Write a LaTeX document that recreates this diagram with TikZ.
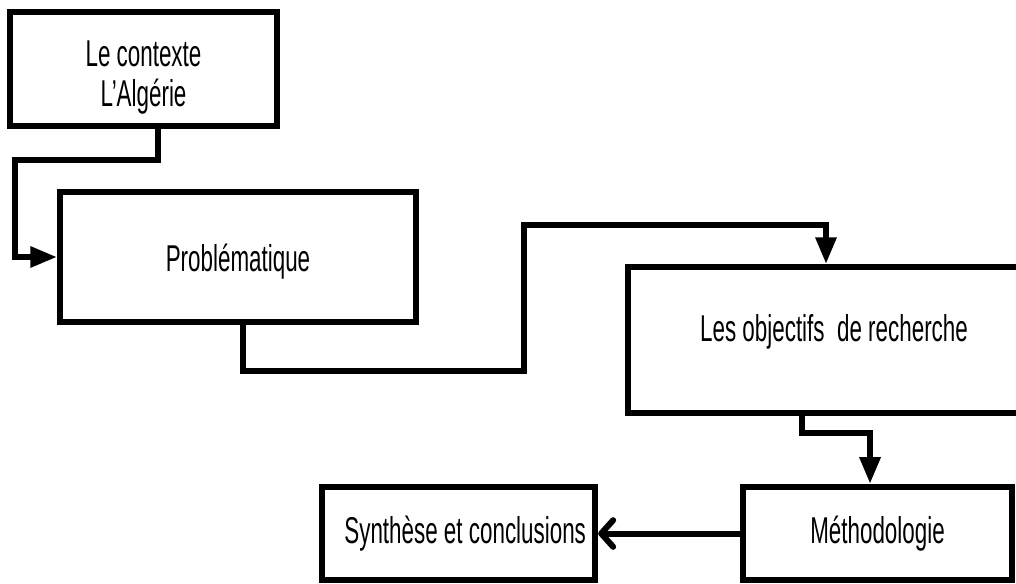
\documentclass[tikz,border=0pt]{standalone}
\usepackage{fontspec}
\setmainfont[FakeStretch=0.6]{Liberation Sans}
\usetikzlibrary{arrows.meta}

\begin{document}
\begin{tikzpicture}[x=0.75pt, y=-0.75pt,
  box/.style={draw, line width=4.5pt, shape=rectangle, align=center, font=\fontsize{28}{30}\selectfont},
  link/.style={line width=4.5pt, -{Triangle[length=20pt, width=15pt]}},
  back/.style={line width=4.5pt, -{Straight Barb[length=9pt, width=20pt, round]}}]
\clip (0,0) rectangle (1016,583);

% Define nodes
\path (143.5,69)
node[box, minimum width=200pt, minimum height=85.5pt] (ctx) {\rule{0pt}{32pt}Le contexte\\L'Algérie}
(238,257)
node[box, minimum width=267pt, minimum height=97.5pt] (pb) {\rule{0pt}{28pt}Problématique}
(834,340)
node[box, minimum width=309pt, minimum height=109.5pt, text depth=18pt] (obj) {Les objectifs\ \ de recherche}
(877.5,533.5)
node[box, minimum width=201.75pt, minimum height=70pt] (meth) {Méthodologie}
(458.5,533.5)
node[box, minimum width=205pt, minimum height=70pt] (syn) {\hspace*{10pt}Synthèse et conclusions}
;

\draw[link] ([xshift=10.9pt]ctx.south) -- ++(0,31) -- ++(-143,0) |- (pb.west);
\draw[link] ([xshift=3.75pt]pb.south) -- ++(0,46) -- ++(281,0) -- ++(0,-146) -| ([xshift=-6pt]obj.north);
\draw[link] ([xshift=-24pt]obj.south) -- ++(0,17) -| ([xshift=-5.6pt]meth.north);
\draw[back] (meth.west) -- (syn.east);

\end{tikzpicture}
\end{document}
